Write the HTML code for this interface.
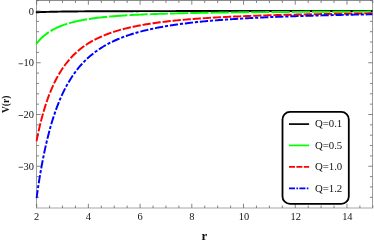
<!DOCTYPE html><html><head><meta charset="utf-8"><style>html,body{margin:0;padding:0;background:#fff}svg{display:block;will-change:transform}text{font-family:"Liberation Serif",serif;fill:#111}</style></head><body>
<svg width="374" height="243" viewBox="0 0 374 243">
<rect width="374" height="243" fill="#fff"/>
<defs><clipPath id="c"><rect x="35.3" y="0.5" width="337.2" height="207.5"/></clipPath></defs>
<path d="M36.5,208.0V0.5M372.5,0.5V208.0" fill="none" stroke="#9c9c9c" stroke-width="1"/>
<path d="M36.0,0.5H373.0" fill="none" stroke="#8c8c8c" stroke-width="1"/>
<path d="M36.0,208.0H373.0" fill="none" stroke="#d2d2d2" stroke-width="2"/>
<path d="M36.65,208.0v-4.2M36.65,0.5v4.2M49.58,208.0v-2.5M49.58,0.5v2.5M62.51,208.0v-2.5M62.51,0.5v2.5M75.44,208.0v-2.5M75.44,0.5v2.5M88.37,208.0v-4.2M88.37,0.5v4.2M101.30,208.0v-2.5M101.30,0.5v2.5M114.23,208.0v-2.5M114.23,0.5v2.5M127.16,208.0v-2.5M127.16,0.5v2.5M140.09,208.0v-4.2M140.09,0.5v4.2M153.02,208.0v-2.5M153.02,0.5v2.5M165.95,208.0v-2.5M165.95,0.5v2.5M178.88,208.0v-2.5M178.88,0.5v2.5M191.81,208.0v-4.2M191.81,0.5v4.2M204.74,208.0v-2.5M204.74,0.5v2.5M217.67,208.0v-2.5M217.67,0.5v2.5M230.60,208.0v-2.5M230.60,0.5v2.5M243.53,208.0v-4.2M243.53,0.5v4.2M256.46,208.0v-2.5M256.46,0.5v2.5M269.39,208.0v-2.5M269.39,0.5v2.5M282.32,208.0v-2.5M282.32,0.5v2.5M295.25,208.0v-4.2M295.25,0.5v4.2M308.18,208.0v-2.5M308.18,0.5v2.5M321.11,208.0v-2.5M321.11,0.5v2.5M334.04,208.0v-2.5M334.04,0.5v2.5M346.97,208.0v-4.2M346.97,0.5v4.2M359.90,208.0v-2.5M359.90,0.5v2.5M372.83,208.0v-2.5M372.83,0.5v2.5M36.5,197.30h2.5M372.5,197.30h-2.5M36.5,186.95h2.5M372.5,186.95h-2.5M36.5,176.60h2.5M372.5,176.60h-2.5M36.5,166.25h4.2M372.5,166.25h-4.2M36.5,155.90h2.5M372.5,155.90h-2.5M36.5,145.55h2.5M372.5,145.55h-2.5M36.5,135.20h2.5M372.5,135.20h-2.5M36.5,124.85h2.5M372.5,124.85h-2.5M36.5,114.50h4.2M372.5,114.50h-4.2M36.5,104.15h2.5M372.5,104.15h-2.5M36.5,93.80h2.5M372.5,93.80h-2.5M36.5,83.45h2.5M372.5,83.45h-2.5M36.5,73.10h2.5M372.5,73.10h-2.5M36.5,62.75h4.2M372.5,62.75h-4.2M36.5,52.40h2.5M372.5,52.40h-2.5M36.5,42.05h2.5M372.5,42.05h-2.5M36.5,31.70h2.5M372.5,31.70h-2.5M36.5,21.35h2.5M372.5,21.35h-2.5M36.5,11.00h4.2M372.5,11.00h-4.2M36.5,0.65h2.5M372.5,0.65h-2.5" stroke="#666" stroke-width="0.8" fill="none"/>
<g clip-path="url(#c)" fill="none" stroke-width="1.95">
<path d="M35.75,12.34 L36.65,12.29 L38.34,12.21 L40.03,12.14 L41.72,12.07 L43.41,12.01 L45.10,11.96 L46.79,11.90 L48.48,11.86 L50.16,11.81 L51.85,11.77 L53.54,11.74 L55.23,11.70 L56.92,11.67 L58.61,11.64 L60.30,11.61 L61.99,11.58 L63.68,11.56 L65.37,11.53 L67.06,11.51 L68.75,11.49 L70.44,11.47 L72.13,11.46 L73.82,11.44 L75.50,11.42 L77.19,11.41 L78.88,11.39 L80.57,11.38 L82.26,11.37 L83.95,11.35 L85.64,11.34 L87.33,11.33 L89.02,11.32 L90.71,11.31 L92.40,11.30 L94.09,11.29 L95.78,11.28 L97.47,11.27 L99.16,11.27 L100.85,11.26 L102.53,11.25 L104.22,11.24 L105.91,11.24 L107.60,11.23 L109.29,11.22 L110.98,11.22 L112.67,11.21 L114.36,11.21 L116.05,11.20 L117.74,11.20 L119.43,11.19 L121.12,11.19 L122.81,11.18 L124.50,11.18 L126.19,11.17 L127.87,11.17 L129.56,11.17 L131.25,11.16 L132.94,11.16 L134.63,11.15 L136.32,11.15 L138.01,11.15 L139.70,11.14 L141.39,11.14 L143.08,11.14 L144.77,11.14 L146.46,11.13 L148.15,11.13 L149.84,11.13 L151.53,11.12 L153.21,11.12 L154.90,11.12 L156.59,11.12 L158.28,11.12 L159.97,11.11 L161.66,11.11 L163.35,11.11 L165.04,11.11 L166.73,11.10 L168.42,11.10 L170.11,11.10 L171.80,11.10 L173.49,11.10 L175.18,11.10 L176.87,11.09 L178.56,11.09 L180.24,11.09 L181.93,11.09 L183.62,11.09 L185.31,11.09 L187.00,11.08 L188.69,11.08 L190.38,11.08 L192.07,11.08 L193.76,11.08 L195.45,11.08 L197.14,11.08 L198.83,11.08 L200.52,11.07 L202.21,11.07 L203.90,11.07 L205.58,11.07 L207.27,11.07 L208.96,11.07 L210.65,11.07 L212.34,11.07 L214.03,11.07 L215.72,11.06 L217.41,11.06 L219.10,11.06 L220.79,11.06 L222.48,11.06 L224.17,11.06 L225.86,11.06 L227.55,11.06 L229.24,11.06 L230.92,11.06 L232.61,11.06 L234.30,11.06 L235.99,11.05 L237.68,11.05 L239.37,11.05 L241.06,11.05 L242.75,11.05 L244.44,11.05 L246.13,11.05 L247.82,11.05 L249.51,11.05 L251.20,11.05 L252.89,11.05 L254.58,11.05 L256.27,11.05 L257.95,11.05 L259.64,11.05 L261.33,11.05 L263.02,11.04 L264.71,11.04 L266.40,11.04 L268.09,11.04 L269.78,11.04 L271.47,11.04 L273.16,11.04 L274.85,11.04 L276.54,11.04 L278.23,11.04 L279.92,11.04 L281.61,11.04 L283.29,11.04 L284.98,11.04 L286.67,11.04 L288.36,11.04 L290.05,11.04 L291.74,11.04 L293.43,11.04 L295.12,11.04 L296.81,11.04 L298.50,11.04 L300.19,11.03 L301.88,11.03 L303.57,11.03 L305.26,11.03 L306.95,11.03 L308.63,11.03 L310.32,11.03 L312.01,11.03 L313.70,11.03 L315.39,11.03 L317.08,11.03 L318.77,11.03 L320.46,11.03 L322.15,11.03 L323.84,11.03 L325.53,11.03 L327.22,11.03 L328.91,11.03 L330.60,11.03 L332.29,11.03 L333.98,11.03 L335.66,11.03 L337.35,11.03 L339.04,11.03 L340.73,11.03 L342.42,11.03 L344.11,11.03 L345.80,11.03 L347.49,11.03 L349.18,11.03 L350.87,11.03 L352.56,11.03 L354.25,11.03 L355.94,11.03 L357.63,11.02 L359.32,11.02 L361.00,11.02 L362.69,11.02 L364.38,11.02 L366.07,11.02 L367.76,11.02 L369.45,11.02 L371.14,11.02 L372.83,11.02" stroke="#000"/>
<path d="M36.07,44.03 L36.65,43.34 L38.34,41.33 L40.03,39.50 L41.72,37.83 L43.41,36.30 L45.10,34.90 L46.79,33.61 L48.48,32.43 L50.16,31.33 L51.85,30.32 L53.54,29.38 L55.23,28.50 L56.92,27.69 L58.61,26.94 L60.30,26.23 L61.99,25.57 L63.68,24.95 L65.37,24.37 L67.06,23.83 L68.75,23.32 L70.44,22.83 L72.13,22.38 L73.82,21.95 L75.50,21.55 L77.19,21.16 L78.88,20.80 L80.57,20.46 L82.26,20.13 L83.95,19.82 L85.64,19.53 L87.33,19.25 L89.02,18.99 L90.71,18.73 L92.40,18.49 L94.09,18.26 L95.78,18.04 L97.47,17.83 L99.16,17.63 L100.85,17.44 L102.53,17.26 L104.22,17.08 L105.91,16.91 L107.60,16.75 L109.29,16.59 L110.98,16.45 L112.67,16.30 L114.36,16.16 L116.05,16.03 L117.74,15.91 L119.43,15.78 L121.12,15.66 L122.81,15.55 L124.50,15.44 L126.19,15.34 L127.87,15.23 L129.56,15.14 L131.25,15.04 L132.94,14.95 L134.63,14.86 L136.32,14.77 L138.01,14.69 L139.70,14.61 L141.39,14.53 L143.08,14.46 L144.77,14.39 L146.46,14.32 L148.15,14.25 L149.84,14.18 L151.53,14.12 L153.21,14.06 L154.90,13.99 L156.59,13.94 L158.28,13.88 L159.97,13.82 L161.66,13.77 L163.35,13.72 L165.04,13.67 L166.73,13.62 L168.42,13.57 L170.11,13.52 L171.80,13.48 L173.49,13.43 L175.18,13.39 L176.87,13.35 L178.56,13.31 L180.24,13.27 L181.93,13.23 L183.62,13.19 L185.31,13.15 L187.00,13.12 L188.69,13.08 L190.38,13.05 L192.07,13.02 L193.76,12.98 L195.45,12.95 L197.14,12.92 L198.83,12.89 L200.52,12.86 L202.21,12.83 L203.90,12.80 L205.58,12.78 L207.27,12.75 L208.96,12.72 L210.65,12.70 L212.34,12.67 L214.03,12.65 L215.72,12.62 L217.41,12.60 L219.10,12.58 L220.79,12.56 L222.48,12.53 L224.17,12.51 L225.86,12.49 L227.55,12.47 L229.24,12.45 L230.92,12.43 L232.61,12.41 L234.30,12.39 L235.99,12.37 L237.68,12.35 L239.37,12.34 L241.06,12.32 L242.75,12.30 L244.44,12.28 L246.13,12.27 L247.82,12.25 L249.51,12.24 L251.20,12.22 L252.89,12.20 L254.58,12.19 L256.27,12.18 L257.95,12.16 L259.64,12.15 L261.33,12.13 L263.02,12.12 L264.71,12.11 L266.40,12.09 L268.09,12.08 L269.78,12.07 L271.47,12.05 L273.16,12.04 L274.85,12.03 L276.54,12.02 L278.23,12.01 L279.92,11.99 L281.61,11.98 L283.29,11.97 L284.98,11.96 L286.67,11.95 L288.36,11.94 L290.05,11.93 L291.74,11.92 L293.43,11.91 L295.12,11.90 L296.81,11.89 L298.50,11.88 L300.19,11.87 L301.88,11.86 L303.57,11.85 L305.26,11.84 L306.95,11.83 L308.63,11.83 L310.32,11.82 L312.01,11.81 L313.70,11.80 L315.39,11.79 L317.08,11.78 L318.77,11.78 L320.46,11.77 L322.15,11.76 L323.84,11.75 L325.53,11.75 L327.22,11.74 L328.91,11.73 L330.60,11.72 L332.29,11.72 L333.98,11.71 L335.66,11.70 L337.35,11.70 L339.04,11.69 L340.73,11.68 L342.42,11.68 L344.11,11.67 L345.80,11.66 L347.49,11.66 L349.18,11.65 L350.87,11.65 L352.56,11.64 L354.25,11.63 L355.94,11.63 L357.63,11.62 L359.32,11.62 L361.00,11.61 L362.69,11.61 L364.38,11.60 L366.07,11.60 L367.76,11.59 L369.45,11.59 L371.14,11.58 L372.83,11.57" stroke="#00ff00" stroke-dasharray="18.3 2.0" stroke-dashoffset="0.8"/>
<path d="M36.47,141.26 L36.65,140.38 L38.34,132.32 L40.03,124.99 L41.72,118.31 L43.41,112.20 L45.10,106.60 L46.79,101.45 L48.48,96.70 L50.16,92.32 L51.85,88.27 L53.54,84.51 L55.23,81.02 L56.92,77.77 L58.61,74.75 L60.30,71.92 L61.99,69.28 L63.68,66.80 L65.37,64.49 L67.06,62.31 L68.75,60.26 L70.44,58.33 L72.13,56.52 L73.82,54.80 L75.50,53.18 L77.19,51.65 L78.88,50.20 L80.57,48.83 L82.26,47.53 L83.95,46.29 L85.64,45.12 L87.33,44.00 L89.02,42.94 L90.71,41.93 L92.40,40.96 L94.09,40.04 L95.78,39.17 L97.47,38.33 L99.16,37.52 L100.85,36.76 L102.53,36.02 L104.22,35.32 L105.91,34.64 L107.60,34.00 L109.29,33.38 L110.98,32.78 L112.67,32.21 L114.36,31.66 L116.05,31.13 L117.74,30.62 L119.43,30.13 L121.12,29.66 L122.81,29.20 L124.50,28.77 L126.19,28.34 L127.87,27.94 L129.56,27.54 L131.25,27.16 L132.94,26.80 L134.63,26.44 L136.32,26.10 L138.01,25.77 L139.70,25.45 L141.39,25.14 L143.08,24.84 L144.77,24.55 L146.46,24.26 L148.15,23.99 L149.84,23.73 L151.53,23.47 L153.21,23.22 L154.90,22.98 L156.59,22.74 L158.28,22.52 L159.97,22.29 L161.66,22.08 L163.35,21.87 L165.04,21.67 L166.73,21.47 L168.42,21.28 L170.11,21.09 L171.80,20.91 L173.49,20.73 L175.18,20.56 L176.87,20.39 L178.56,20.23 L180.24,20.07 L181.93,19.92 L183.62,19.77 L185.31,19.62 L187.00,19.48 L188.69,19.34 L190.38,19.20 L192.07,19.07 L193.76,18.94 L195.45,18.81 L197.14,18.69 L198.83,18.56 L200.52,18.45 L202.21,18.33 L203.90,18.22 L205.58,18.11 L207.27,18.00 L208.96,17.90 L210.65,17.79 L212.34,17.69 L214.03,17.59 L215.72,17.50 L217.41,17.40 L219.10,17.31 L220.79,17.22 L222.48,17.13 L224.17,17.05 L225.86,16.96 L227.55,16.88 L229.24,16.80 L230.92,16.72 L232.61,16.64 L234.30,16.57 L235.99,16.49 L237.68,16.42 L239.37,16.35 L241.06,16.28 L242.75,16.21 L244.44,16.14 L246.13,16.07 L247.82,16.01 L249.51,15.94 L251.20,15.88 L252.89,15.82 L254.58,15.76 L256.27,15.70 L257.95,15.64 L259.64,15.59 L261.33,15.53 L263.02,15.47 L264.71,15.42 L266.40,15.37 L268.09,15.32 L269.78,15.27 L271.47,15.22 L273.16,15.17 L274.85,15.12 L276.54,15.07 L278.23,15.02 L279.92,14.98 L281.61,14.93 L283.29,14.89 L284.98,14.84 L286.67,14.80 L288.36,14.76 L290.05,14.72 L291.74,14.68 L293.43,14.64 L295.12,14.60 L296.81,14.56 L298.50,14.52 L300.19,14.48 L301.88,14.45 L303.57,14.41 L305.26,14.37 L306.95,14.34 L308.63,14.30 L310.32,14.27 L312.01,14.23 L313.70,14.20 L315.39,14.17 L317.08,14.14 L318.77,14.11 L320.46,14.07 L322.15,14.04 L323.84,14.01 L325.53,13.98 L327.22,13.95 L328.91,13.92 L330.60,13.90 L332.29,13.87 L333.98,13.84 L335.66,13.81 L337.35,13.79 L339.04,13.76 L340.73,13.73 L342.42,13.71 L344.11,13.68 L345.80,13.66 L347.49,13.63 L349.18,13.61 L350.87,13.58 L352.56,13.56 L354.25,13.54 L355.94,13.51 L357.63,13.49 L359.32,13.47 L361.00,13.45 L362.69,13.43 L364.38,13.40 L366.07,13.38 L367.76,13.36 L369.45,13.34 L371.14,13.32 L372.83,13.30" stroke="#ff0000" stroke-dasharray="8.25 1.85"/>
<path d="M36.52,198.19 L36.65,197.30 L38.34,185.70 L40.03,175.15 L41.72,165.53 L43.41,156.73 L45.10,148.66 L46.79,141.25 L48.48,134.41 L50.16,128.10 L51.85,122.27 L53.54,116.85 L55.23,111.83 L56.92,107.15 L58.61,102.79 L60.30,98.72 L61.99,94.92 L63.68,91.36 L65.37,88.02 L67.06,84.88 L68.75,81.93 L70.44,79.16 L72.13,76.54 L73.82,74.08 L75.50,71.75 L77.19,69.54 L78.88,67.45 L80.57,65.48 L82.26,63.60 L83.95,61.82 L85.64,60.13 L87.33,58.53 L89.02,57.00 L90.71,55.54 L92.40,54.15 L94.09,52.82 L95.78,51.56 L97.47,50.35 L99.16,49.19 L100.85,48.09 L102.53,47.03 L104.22,46.02 L105.91,45.05 L107.60,44.12 L109.29,43.22 L110.98,42.36 L112.67,41.54 L114.36,40.75 L116.05,39.99 L117.74,39.25 L119.43,38.55 L121.12,37.87 L122.81,37.21 L124.50,36.58 L126.19,35.98 L127.87,35.39 L129.56,34.82 L131.25,34.28 L132.94,33.75 L134.63,33.24 L136.32,32.74 L138.01,32.27 L139.70,31.80 L141.39,31.36 L143.08,30.92 L144.77,30.51 L146.46,30.10 L148.15,29.71 L149.84,29.33 L151.53,28.96 L153.21,28.60 L154.90,28.25 L156.59,27.91 L158.28,27.58 L159.97,27.26 L161.66,26.96 L163.35,26.65 L165.04,26.36 L166.73,26.08 L168.42,25.80 L170.11,25.53 L171.80,25.27 L173.49,25.02 L175.18,24.77 L176.87,24.53 L178.56,24.29 L180.24,24.06 L181.93,23.84 L183.62,23.62 L185.31,23.41 L187.00,23.20 L188.69,23.00 L190.38,22.81 L192.07,22.61 L193.76,22.43 L195.45,22.24 L197.14,22.07 L198.83,21.89 L200.52,21.72 L202.21,21.56 L203.90,21.39 L205.58,21.24 L207.27,21.08 L208.96,20.93 L210.65,20.78 L212.34,20.64 L214.03,20.49 L215.72,20.36 L217.41,20.22 L219.10,20.09 L220.79,19.96 L222.48,19.83 L224.17,19.71 L225.86,19.59 L227.55,19.47 L229.24,19.35 L230.92,19.24 L232.61,19.12 L234.30,19.01 L235.99,18.91 L237.68,18.80 L239.37,18.70 L241.06,18.60 L242.75,18.50 L244.44,18.40 L246.13,18.30 L247.82,18.21 L249.51,18.12 L251.20,18.03 L252.89,17.94 L254.58,17.85 L256.27,17.77 L257.95,17.69 L259.64,17.60 L261.33,17.52 L263.02,17.44 L264.71,17.37 L266.40,17.29 L268.09,17.22 L269.78,17.14 L271.47,17.07 L273.16,17.00 L274.85,16.93 L276.54,16.86 L278.23,16.79 L279.92,16.73 L281.61,16.66 L283.29,16.60 L284.98,16.54 L286.67,16.47 L288.36,16.41 L290.05,16.35 L291.74,16.29 L293.43,16.24 L295.12,16.18 L296.81,16.12 L298.50,16.07 L300.19,16.01 L301.88,15.96 L303.57,15.91 L305.26,15.86 L306.95,15.81 L308.63,15.76 L310.32,15.71 L312.01,15.66 L313.70,15.61 L315.39,15.56 L317.08,15.52 L318.77,15.47 L320.46,15.43 L322.15,15.38 L323.84,15.34 L325.53,15.30 L327.22,15.25 L328.91,15.21 L330.60,15.17 L332.29,15.13 L333.98,15.09 L335.66,15.05 L337.35,15.01 L339.04,14.97 L340.73,14.94 L342.42,14.90 L344.11,14.86 L345.80,14.83 L347.49,14.79 L349.18,14.76 L350.87,14.72 L352.56,14.69 L354.25,14.65 L355.94,14.62 L357.63,14.59 L359.32,14.56 L361.00,14.52 L362.69,14.49 L364.38,14.46 L366.07,14.43 L367.76,14.40 L369.45,14.37 L371.14,14.34 L372.83,14.31" stroke="#0000ff" stroke-dasharray="8.25 1.85 3.15 1.85"/>
</g>
<text x="36.65" y="220" font-size="10.4" text-anchor="middle">2</text>
<text x="88.37" y="220" font-size="10.4" text-anchor="middle">4</text>
<text x="140.09" y="220" font-size="10.4" text-anchor="middle">6</text>
<text x="191.81" y="220" font-size="10.4" text-anchor="middle">8</text>
<text x="243.93" y="220" font-size="10.4" text-anchor="middle">10</text>
<text x="295.65" y="220" font-size="10.4" text-anchor="middle">12</text>
<text x="347.37" y="220" font-size="10.4" text-anchor="middle">14</text>
<text x="34" y="14.50" font-size="10.4" text-anchor="end">0</text>
<text x="34" y="66.25" font-size="10.4" text-anchor="end">10</text>
<path d="M18.6,63.75h4.5" stroke="#222" stroke-width="0.75"/>
<text x="34" y="118.00" font-size="10.4" text-anchor="end">20</text>
<path d="M18.6,115.50h4.5" stroke="#222" stroke-width="0.75"/>
<text x="34" y="169.75" font-size="10.4" text-anchor="end">30</text>
<path d="M18.6,167.25h4.5" stroke="#222" stroke-width="0.75"/>
<text x="204.5" y="239.6" font-size="13" font-weight="bold" text-anchor="middle" fill="#000">r</text>
<text transform="translate(9.05,104.4) rotate(-90)" font-size="9.5" font-weight="bold" text-anchor="middle" fill="#000">V(r)</text>
<rect x="282.5" y="111.95" width="66.3" height="91.95" rx="7.5" ry="7.5" fill="#fff" stroke="#000" stroke-width="1.8"/>
<path d="M289,124.1H309.1" stroke="#000" stroke-width="1.7" fill="none"/>
<text x="314.9" y="127.30" font-size="10.8" fill="#000">Q=0.1</text>
<path d="M289,145.4H309.1" stroke="#00ff00" stroke-width="1.7" fill="none"/>
<text x="314.9" y="148.60" font-size="10.8" fill="#000">Q=0.5</text>
<path d="M289,166.9H309.1" stroke="#ff0000" stroke-width="1.7" stroke-dasharray="6 1.4" fill="none"/>
<text x="314.9" y="170.10" font-size="10.8" fill="#000">Q=1.0</text>
<path d="M289,188.4H309.1" stroke="#0000ff" stroke-width="1.7" stroke-dasharray="6 1.4 1.6 1.4" fill="none"/>
<text x="314.9" y="191.60" font-size="10.8" fill="#000">Q=1.2</text>
</svg></body></html>
